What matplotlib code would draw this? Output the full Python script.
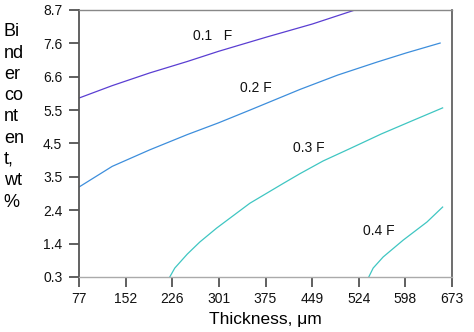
#!/usr/bin/env python3

import numpy as np
import matplotlib as mpl
import matplotlib.pyplot as plt

mpl.use("Agg")
plt.rcParams["font.family"] = ["Liberation Sans", "DejaVu Sans"]

# contour lines (thickness um, binder content wt%)
x_01 = [77, 130, 190, 250, 300, 377, 450, 518]
y_01 = [5.93, 6.32, 6.72, 7.08, 7.40, 7.85, 8.26, 8.70]

x_02 = [77, 130, 190, 250, 300, 350, 430, 490, 553, 600, 654]
y_02 = [3.13, 3.78, 4.30, 4.78, 5.15, 5.55, 6.20, 6.65, 7.06, 7.35, 7.66]

x_03 = [222, 230, 250, 270, 297, 350, 403, 430, 467, 510, 560, 610, 658]
y_03 = [0.30, 0.58, 1.02, 1.40, 1.84, 2.62, 3.24, 3.55, 3.95, 4.34, 4.80, 5.22, 5.62]

x_04 = [540, 547, 563, 595, 633, 658]
y_04 = [0.30, 0.58, 0.93, 1.46, 2.03, 2.50]

labels = ["0.1   F", "0.2 F", "0.3 F", "0.4 F"]
label_x = [259, 334, 419, 531]
label_y = [7.88, 6.25, 4.36, 1.75]

xticks = [77, 152, 226, 301, 375, 449, 524, 598, 673]
yticks = [0.3, 1.4, 2.4, 3.5, 4.5, 5.5, 6.6, 7.6, 8.7]

colors = ["#5a3ed2", "#3d8edc", "#3fc6c2", "#3fc6c2"]

fig = plt.figure(figsize=(4.74, 3.32), dpi=100)
ax = fig.add_axes([0.1667, 0.1657, 0.7869, 0.8042])

for (xs, ys), c in zip([(x_01, y_01), (x_02, y_02), (x_03, y_03), (x_04, y_04)], colors):
    ax.plot(xs, ys, color=c, lw=0.9)

for t, lx, ly in zip(labels, label_x, label_y):
    ax.text(lx, ly, t, fontsize=10, ha="left", va="center", color="#111111")

ax.set_xlim(77, 673)
ax.set_ylim(0.3, 8.7)

# ticks are evenly spaced, labels are the rounded values
ax.set_xticks(np.linspace(77, 673, len(xticks)))
ax.set_xticklabels([str(v) for v in xticks])
ax.set_yticks(np.linspace(0.3, 8.7, len(yticks)))
ax.set_yticklabels([f"{v:.1f}" for v in yticks])

ax.tick_params(axis="both", direction="out", length=7, width=1.2, color="#444444",
               labelsize=10, labelcolor="#111111")
ax.tick_params(axis="x", pad=4)
ax.tick_params(axis="y", pad=5)

ax.spines["left"].set_color("#555555")
ax.spines["left"].set_linewidth(1.3)
ax.spines["right"].set_color("#555555")
ax.spines["right"].set_linewidth(1.2)
ax.spines["bottom"].set_color("#aaaaaa")
ax.spines["bottom"].set_linewidth(1.0)
ax.spines["top"].set_color("#888888")
ax.spines["top"].set_linewidth(1.0)

ax.set_xlabel("Thickness, μm", fontsize=12.5, labelpad=4)
fig.text(0.008, 0.93, "Bi\nnd\ner\nco\nnt\nen\nt,\nwt\n%", fontsize=13,
         ha="left", va="top", linespacing=1.33)

plt.savefig("out.png", dpi=100)
